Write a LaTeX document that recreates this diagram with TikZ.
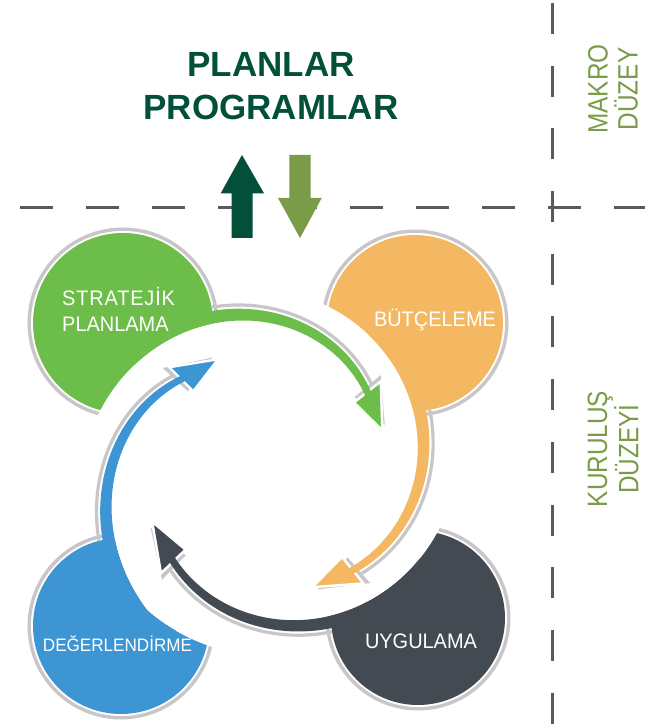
\documentclass[tikz,border=0pt]{standalone}
\usepackage{fontspec}
\setmainfont{Liberation Sans}
\newfontfamily\condsans[FakeStretch=0.87]{Liberation Sans}
\newfontfamily\blobsans[FakeStretch=0.95]{Liberation Sans}
\definecolor{titlegreen}{HTML}{02503A}
\definecolor{levelolive}{HTML}{7A9B47}
\definecolor{stratgreen}{HTML}{6DBD4A}
\definecolor{budgetorange}{HTML}{F5B862}
\definecolor{implgray}{HTML}{434A52}
\definecolor{evalblue}{HTML}{3D96D3}
\definecolor{shadowgray}{HTML}{C8C6C8}
\definecolor{guidegray}{HTML}{5A5A5A}
\tikzset{guide/.style={draw=guidegray, line width=3.2pt}}
\tikzset{rim/.style={draw=shadowgray, line width=3.4pt}}
\tikzset{blobtext/.style={text=white, inner sep=0pt, font=\blobsans\fontsize{21}{26}\selectfont}}
\tikzset{leveltext/.style={text=levelolive, inner sep=0pt, rotate=90, align=center, font=\condsans\fontsize{28}{30}\selectfont}}
% colour / blob x / blob y / blob radius / arrow base angle / inner radius at base / spiral slope / max inner radius
\def\units{stratgreen/123/403/90/38/120/0.48/999, budgetorange/415/403/88/-51/128/0.36/999, implgray/418/108/87/224/131/0.42/999, evalblue/121/100/88/135/122/0.7/188}

\begin{document}
\begin{tikzpicture}[x=1pt, y=1pt, declare function={rin(\vt,\va,\vb,\vm)=min(\va+\vb*\vt,\vm);}]
\useasboundingbox (0,0) rectangle (645,726);
\coordinate (c) at (270,258);

% level guides
\draw[guide, dash pattern=on 32.5pt off 33.5pt] (20,518.7) -- (645,518.7);
\draw[guide, dash pattern=on 31pt off 31.7pt] (552.3,723) -- (552.3,0);

% blobs
\foreach \col/\bx/\by/\br/\bb/\ba/\bk/\bm in \units {
    \draw[rim] (\bx,\by) circle[radius=\br+3.8];
}
\foreach \col/\bx/\by/\br/\bb/\ba/\bk/\bm in \units {
    \fill[\col] (\bx,\by) circle[radius=\br];
}
\foreach \col/\bx/\by/\br/\bb/\ba/\bk/\bm in \units {
    \fill[white, shift={(c)}] (0,0) -- plot[domain=\bb+55:\bb+135, samples=60] (\x:{rin(\x-(\bb),\ba,\bk,\bm)}) -- cycle;
}

% spiral arrows
\foreach \col/\bx/\by/\br/\bb/\ba/\bk/\bm in \units {
    \begin{scope}[even odd rule]
        \clip (0,0) rectangle (645,726) (\bx,\by) circle[radius=\br];
        \draw[rim, line width=3.2pt, shift={(c)}] plot[domain=\bb+105:\bb, samples=60] (\x:{rin(\x-(\bb),\ba,\bk,\bm)+10.8+0.08*(\x-(\bb))});
    \end{scope}
    \fill[shadowgray, shift={(c)}] ({\bb+2}:{\ba+24.5}) -- ({\bb+2}:{\ba-9.5}) -- ({\bb-17.5}:{\ba+2.5}) -- cycle;
}
\foreach \col/\bx/\by/\br/\bb/\ba/\bk/\bm in \units {
    \filldraw[fill=\col, draw=white, line width=2.4pt, shift={(c)}] ({\bb}:{\ba+20.5}) -- ({\bb}:{\ba-13.5}) -- ({\bb-19.5}:{\ba-1.5}) -- cycle;
    \fill[\col, shift={(c)}] plot[domain=\bb+105:\bb-1.5, samples=60] (\x:{rin(\x-(\bb),\ba,\bk,\bm)})
        -- plot[domain=\bb-1.5:\bb+105, samples=60] (\x:{rin(\x-(\bb),\ba,\bk,\bm)+7+0.08*(\x-(\bb))}) -- cycle;
}

% labels
\node[blobtext, align=left, anchor=base west] (strat) at (62,394) {{\addfontfeature{LetterSpace=4}STRATEJİK}\\PLANLAMA};
\node[blobtext, anchor=base] (budget) at (435,399) {BÜTÇELEME};
\node[blobtext, anchor=base] (impl) at (421,77) {UYGULAMA};
\node[blobtext, anchor=base, font=\blobsans\fontsize{18}{22}\selectfont] (eval) at (117.5,74) {DEĞERLENDİRME};

\node[leveltext] (macro) at (613,637) {MAKRO\\DÜZEY};
\node[leveltext] (org) at (613,277) {KURULUŞ\\DÜZEYİ};

\node[text=titlegreen, font=\bfseries\fontsize{35}{43}\selectfont, align=center, inner sep=0pt] (title) at (271,640.3) {PLANLAR\\PROGRAMLAR};

% up and down block arrows
\fill[titlegreen] (231.7,488) -- (231.7,532.7) -- (220.7,532.7) -- (242,571) -- (264,532.7) -- (252.7,532.7) -- (252.7,488) -- cycle;
\fill[levelolive] (289.3,571) -- (289.3,528) -- (278,528) -- (300,488) -- (321.7,528) -- (310.7,528) -- (310.7,571) -- cycle;
\end{tikzpicture}
\end{document}
